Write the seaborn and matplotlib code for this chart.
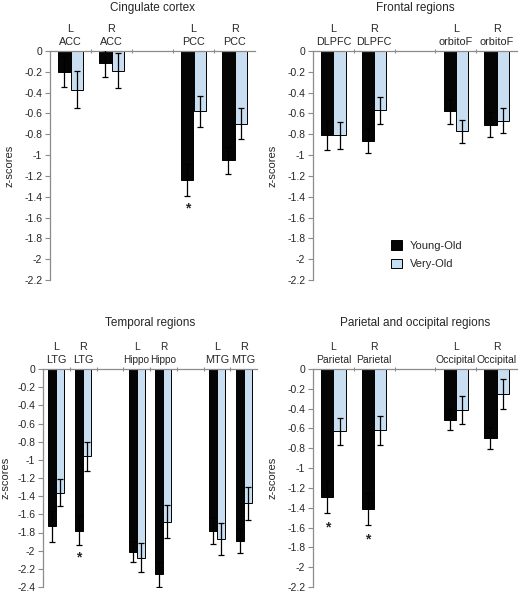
import numpy as np
import pandas as pd
import matplotlib
matplotlib.use('Agg')
import matplotlib.pyplot as plt
from matplotlib.patches import Patch
import seaborn as sns

groups = ['Young-Old', 'Very-Old']
colors = {'Young-Old': '#050505', 'Very-Old': '#c3dff6'}

# Cingulate cortex
cing_order = ['L\nACC', 'R\nACC', ' ', 'L\nPCC', 'R\nPCC']
cing_regions = ['L\nACC', 'R\nACC', 'L\nPCC', 'R\nPCC']
cing_young = [-0.20, -0.12, -1.24, -1.05]
cing_young_err = [0.15, 0.13, 0.15, 0.13]
cing_very = [-0.37, -0.19, -0.58, -0.70]
cing_very_err = [0.18, 0.17, 0.15, 0.15]
cing_stars = [('L\nPCC', -1.51)]

# Frontal regions
front_order = ['L\nDLPFC', 'R\nDLPFC', ' ', 'L\norbitoF', 'R\norbitoF']
front_regions = ['L\nDLPFC', 'R\nDLPFC', 'L\norbitoF', 'R\norbitoF']
front_young = [-0.81, -0.86, -0.58, -0.71]
front_young_err = [0.14, 0.12, 0.12, 0.12]
front_very = [-0.81, -0.57, -0.77, -0.67]
front_very_err = [0.13, 0.13, 0.11, 0.12]
front_stars = []

# Temporal regions
temp_order = ['L\nLTG', 'R\nLTG', ' ', 'L\nHippo', 'R\nHippo', '  ', 'L\nMTG', 'R\nMTG']
temp_regions = ['L\nLTG', 'R\nLTG', 'L\nHippo', 'R\nHippo', 'L\nMTG', 'R\nMTG']
temp_young = [-1.73, -1.78, -2.01, -2.26, -1.78, -1.89]
temp_young_err = [0.17, 0.16, 0.12, 0.14, 0.15, 0.14]
temp_very = [-1.36, -0.96, -2.08, -1.68, -1.87, -1.48]
temp_very_err = [0.15, 0.16, 0.16, 0.18, 0.18, 0.18]
temp_stars = [('R\nLTG', -2.07)]

# Parietal and occipital regions
par_order = ['L\nParietal', 'R\nParietal', ' ', 'L\nOccipital', 'R\nOccipital']
par_regions = ['L\nParietal', 'R\nParietal', 'L\nOccipital', 'R\nOccipital']
par_young = [-1.29, -1.41, -0.51, -0.70]
par_young_err = [0.16, 0.16, 0.11, 0.11]
par_very = [-0.63, -0.62, -0.41, -0.25]
par_very_err = [0.14, 0.15, 0.14, 0.15]
par_stars = [('L\nParietal', -1.60), ('R\nParietal', -1.72)]

sns.set_style('white')
plt.rcParams['font.family'] = ['Liberation Sans', 'DejaVu Sans']
plt.rcParams['axes.unicode_minus'] = False

GRAY = '#8c8c8c'


def draw_panel(ax, title, order, regions, young, young_err, very, very_err,
               ymin, stars, title_off, label_size=7.8, ylabel_pad=7):
    n = len(regions)
    df = pd.DataFrame({
        'region': regions * 2,
        'group': ['Young-Old'] * n + ['Very-Old'] * n,
        'z': young + very,
        'err': young_err + very_err,
    })
    sns.barplot(data=df, x='region', y='z', hue='group', order=order,
                hue_order=groups, palette=colors, width=0.6, errorbar=None,
                edgecolor='black', linewidth=0.7, legend=False, ax=ax)

    centers = {}
    for cont, g in zip(ax.containers, groups):
        for bar in cont:
            xc = bar.get_x() + bar.get_width() / 2
            reg = order[int(round(xc))]
            centers[(g, reg)] = xc
    for _, row in df.iterrows():
        xc = centers[(row['group'], row['region'])]
        ax.errorbar(xc, row['z'], yerr=row['err'], fmt='none', ecolor='black',
                    elinewidth=0.9, capsize=2.5, capthick=0.9, zorder=4)

    for reg, y in stars:
        ax.text(centers[('Young-Old', reg)], y, '*', ha='center', va='center',
                fontsize=10, fontweight='bold')

    ax.set_xlim(-0.5, len(order) - 0.5)
    ax.set_ylim(ymin, 0)
    ticks = np.round(np.arange(0, ymin - 0.01, -0.2), 1)
    ax.set_yticks(ticks)
    ax.set_yticklabels(['0' if abs(t) < 1e-9 else f'{t:g}' for t in ticks])

    ax.xaxis.tick_top()
    ax.set_xticks(np.arange(0.5, len(order) - 0.5), minor=True)
    ax.tick_params(axis='x', which='major', length=0, pad=3, labelsize=label_size)
    ax.tick_params(axis='x', which='minor', top=True, length=3,
                   direction='inout', width=0.8, color=GRAY)
    ax.tick_params(axis='y', left=True, length=3.5, width=0.8, color=GRAY,
                   labelsize=7.5, pad=2)
    for lab in ax.get_xticklabels():
        lab.set_linespacing(1.4)

    for side in ['bottom', 'right']:
        ax.spines[side].set_visible(False)
    for side in ['top', 'left']:
        ax.spines[side].set_color(GRAY)
        ax.spines[side].set_linewidth(0.9)

    ax.set_xlabel('')
    ax.set_ylabel('z-scores', fontsize=8, labelpad=ylabel_pad)
    ax.annotate(title, xy=(0.5, 1), xycoords='axes fraction',
                xytext=(0, title_off), textcoords='offset points',
                ha='center', va='center', fontsize=8.5)


fig = plt.figure(figsize=(5.19, 5.94), dpi=100)
W, H = 519, 594
ax_tl = fig.add_axes([50 / W, 1 - 280 / H, 205 / W, 229 / H])
ax_tr = fig.add_axes([313 / W, 1 - 280 / H, 204 / W, 229 / H])
ax_bl = fig.add_axes([43 / W, 1 - 587 / H, 214 / W, 218 / H])
ax_br = fig.add_axes([313 / W, 1 - 587 / H, 204 / W, 218 / H])

draw_panel(ax_tl, 'Cingulate cortex', cing_order, cing_regions, cing_young,
           cing_young_err, cing_very, cing_very_err, -2.2, cing_stars, 31)
draw_panel(ax_tr, 'Frontal regions', front_order, front_regions, front_young,
           front_young_err, front_very, front_very_err, -2.2, front_stars, 31)
draw_panel(ax_bl, 'Temporal regions', temp_order, temp_regions, temp_young,
           temp_young_err, temp_very, temp_very_err, -2.4, temp_stars, 33,
           ylabel_pad=4.5)
draw_panel(ax_br, 'Parietal and occipital regions', par_order, par_regions,
           par_young, par_young_err, par_very, par_very_err, -2.2, par_stars, 33,
           label_size=7.5)

# the Hippo labels are set smaller in the original to fit the narrow slots
for lab in ax_bl.get_xticklabels():
    if 'Hippo' in lab.get_text():
        lab.set_fontsize(7.2)

handles = [Patch(facecolor=colors[g], edgecolor='black', linewidth=0.7, label=g)
           for g in groups]
fig.legend(handles=handles, loc='upper left',
           bbox_to_anchor=(391 / W, 1 - 240 / H), frameon=False, fontsize=8,
           handlelength=1.0, handleheight=1.0, handletextpad=0.7,
           labelspacing=0.7, borderpad=0, borderaxespad=0)

fig.savefig('out.png', dpi=100)
plt.close(fig)
